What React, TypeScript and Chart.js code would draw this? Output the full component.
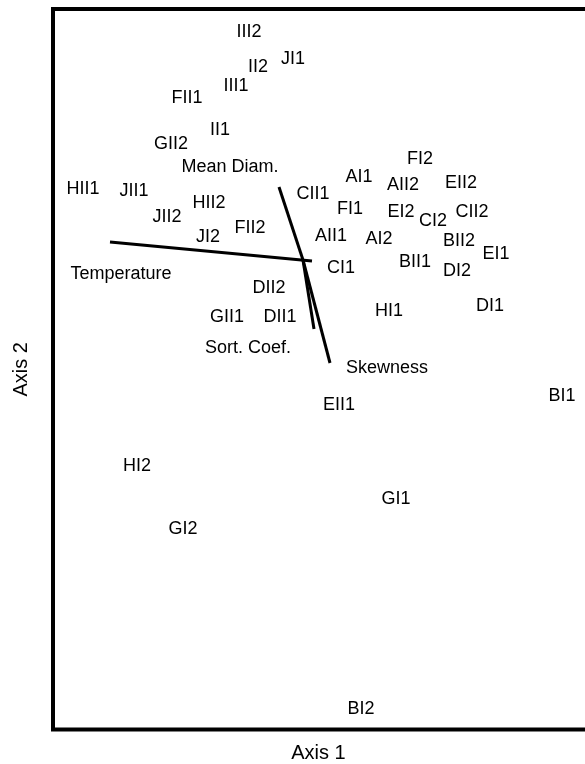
import React, { useEffect, useRef } from "react";
import { Chart, registerables } from "chart.js";

Chart.register(...registerables);

// Site scores (labels drawn at their coordinates)
const siteLabels = [
  "III2", "II2", "JI1", "III1", "FII1", "II1", "GII2", "HII1", "JII1", "HII2",
  "JII2", "FII2", "JI2", "FI2", "AI1", "AII2", "EII2", "CII1", "FI1", "EI2",
  "CI2", "CII2", "AII1", "AI2", "BII2", "EI1", "CI1", "BII1", "DI2", "HI1",
  "DI1", "EII1", "BI1", "DII2", "GII1", "DII1", "HI2", "GI1", "GI2", "BI2",
];
const siteX = [
  -0.54, -0.45, -0.10, -0.67, -1.16, -0.83, -1.32, -2.20, -1.69, -0.94,
  -1.36, -0.53, -0.95, 1.17, 0.56, 1.00, 1.58, 0.10, 0.47, 0.98,
  1.30, 1.69, 0.28, 0.76, 1.56, 1.93, 0.38, 1.12, 1.54, 0.86,
  1.87, 0.36, 2.59, -0.34, -0.76, -0.23, -1.66, 0.93, -1.20, 0.58,
];
const siteY = [
  2.29, 1.94, 2.02, 1.75, 1.63, 1.31, 1.17, 0.72, 0.70, 0.58,
  0.44, 0.33, 0.24, 1.02, 0.84, 0.76, 0.78, 0.67, 0.52, 0.49,
  0.40, 0.49, 0.25, 0.22, 0.20, 0.07, -0.07, -0.01, -0.10, -0.50,
  -0.45, -1.44, -1.35, -0.27, -0.56, -0.56, -2.05, -2.38, -2.68, -4.48,
];

// Environmental variable vectors
const varNames = ["Temperature", "Mean Diam.", "Sort. Coef.", "Skewness"];
const varStartX = [0.09, 0, 0, 0];
const varStartY = [-0.01, 0, 0, 0];
const varEndX = [-1.93, -0.24, 0.11, 0.27];
const varEndY = [0.18, 0.73, -0.69, -1.03];
const varLabelX = [-1.82, -0.73, -0.55, 0.84];
const varLabelY = [-0.13, 0.94, -0.87, -1.07];

const xTitle = "Axis 1";
const yTitle = "Axis 2";

const X_MIN = -2.5;
const X_MAX = 2.81;
const Y_MIN = -4.695;
const Y_MAX = 2.51;

const FONT = "'Liberation Sans', Arial, Helvetica, sans-serif";
const LABEL_SIZE = 18;
const TITLE_SIZE = 20;

const textPlugin = {
  id: "biplotText",
  afterDatasetsDraw(chart: any) {
    const { ctx, chartArea, scales } = chart;
    const xs = scales.x;
    const ys = scales.y;
    ctx.save();
    ctx.fillStyle = "#000";
    ctx.textAlign = "center";
    ctx.textBaseline = "alphabetic";
    ctx.font = `${LABEL_SIZE}px ${FONT}`;
    const off = LABEL_SIZE * 0.36;
    for (let i = 0; i < siteLabels.length; i++) {
      ctx.fillText(siteLabels[i], xs.getPixelForValue(siteX[i]), ys.getPixelForValue(siteY[i]) + off);
    }
    for (let i = 0; i < varNames.length; i++) {
      ctx.fillText(varNames[i], xs.getPixelForValue(varLabelX[i]), ys.getPixelForValue(varLabelY[i]) + off);
    }
    // frame: left, top, bottom (right edge lies at the canvas edge)
    ctx.strokeStyle = "#000";
    ctx.lineWidth = 4;
    ctx.lineCap = "square";
    ctx.beginPath();
    ctx.moveTo(chart.width + 4, chartArea.top);
    ctx.lineTo(chartArea.left, chartArea.top);
    ctx.lineTo(chartArea.left, chartArea.bottom);
    ctx.lineTo(chart.width + 4, chartArea.bottom);
    ctx.stroke();
    // axis titles
    ctx.font = `${TITLE_SIZE}px ${FONT}`;
    const toff = TITLE_SIZE * 0.36;
    const cx = (chartArea.left + chartArea.right) / 2;
    ctx.fillText(xTitle, cx, chartArea.bottom + 22.5 + toff);
    const cy = (chartArea.top + chartArea.bottom) / 2;
    ctx.translate(19.5 + toff, cy);
    ctx.rotate(-Math.PI / 2);
    ctx.fillText(yTitle, 0, 0);
    ctx.restore();
  },
};

export default function App() {
  const ref = useRef<HTMLCanvasElement | null>(null);
  useEffect(() => {
    const prevMargin = document.body.style.margin;
    document.body.style.margin = "0";
    const canvas = ref.current;
    if (!canvas) return;
    const datasets: any[] = varNames.map((n, i) => ({
      label: n,
      type: "line",
      data: [
        { x: varStartX[i], y: varStartY[i] },
        { x: varEndX[i], y: varEndY[i] },
      ],
      borderColor: "#000",
      borderWidth: 3,
      pointRadius: 0,
      fill: false,
      showLine: true,
      tension: 0,
    }));
    datasets.push({
      label: "sites",
      data: siteLabels.map((_, i) => ({ x: siteX[i], y: siteY[i] })),
      pointRadius: 0,
      showLine: false,
    });
    const chart = new Chart(canvas, {
      type: "scatter",
      data: { datasets },
      options: {
        animation: false,
        responsive: false,
        devicePixelRatio: 1,
        layout: { padding: { left: 53, top: 9, right: 1, bottom: 34.5 } },
        plugins: { legend: { display: false }, tooltip: { enabled: false } },
        scales: {
          x: { type: "linear", min: X_MIN, max: X_MAX, display: false },
          y: { type: "linear", min: Y_MIN, max: Y_MAX, display: false },
        },
      },
      plugins: [textPlugin],
    });
    return () => {
      chart.destroy();
      document.body.style.margin = prevMargin;
    };
  }, []);
  return (
    <canvas
      ref={ref}
      width={585}
      height={764}
      style={{ display: "block", width: "585px", height: "764px" }}
    />
  );
}
